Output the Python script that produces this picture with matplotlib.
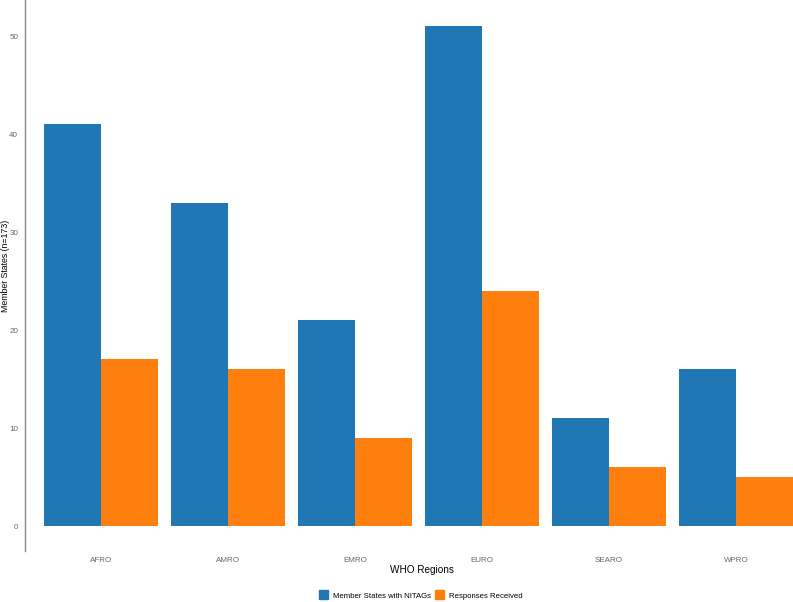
import matplotlib.pyplot as plt
from matplotlib.patches import Patch
import numpy as np

plt.rcParams['font.family'] = ['Liberation Sans', 'DejaVu Sans']

# data
regions = ['AFRO', 'AMRO', 'EMRO', 'EURO', 'SEARO', 'WPRO']
with_nitags = [41, 33, 21, 51, 11, 16]
responses = [17, 16, 9, 24, 6, 5]
series_labels = ['Member States with NITAGs', 'Responses Received']

blue = '#1F77B4'
orange = '#FF7F0E'
grey = '#666666'

W, H = 793, 602
fig = plt.figure(figsize=(W / 100, H / 100), dpi=100)
ax = fig.add_axes([25 / W, 1 - 551 / H, 1 - 25 / W, 551 / H])

x = np.arange(len(regions))
w = 0.45
ax.bar(x - w / 2, with_nitags, width=w, color=blue)
ax.bar(x + w / 2, responses, width=w, color=orange)

ax.set_xlim(-0.6, 5.45)
ax.set_ylim(-2.55, 53.7)
ax.set_yticks([0, 10, 20, 30, 40, 50])
ax.set_xticks(x)
ax.set_xticklabels(regions)
ax.tick_params(axis='both', length=0, labelsize=5.8, labelcolor=grey)
ax.tick_params(axis='x', pad=4)
ax.tick_params(axis='y', pad=5)

for s in ['top', 'right', 'bottom']:
    ax.spines[s].set_visible(False)
ax.spines['left'].set_color('#8C8C8C')
ax.spines['left'].set_linewidth(1.0)

# axis titles placed in figure pixels
fig.text(422 / W, 1 - 570 / H, 'WHO Regions', ha='center', va='center',
         fontsize=7.2, color='black')
fig.text(6 / W, 1 - 266 / H, 'Member States (n=173)', ha='center',
         va='center', rotation=90, fontsize=6.3, color='black')

handles = [Patch(color=blue, label=series_labels[0]),
           Patch(color=orange, label=series_labels[1])]
fig.legend(handles=handles, loc='center', bbox_to_anchor=(421 / W, 1 - 595 / H),
           ncol=2, frameon=False, fontsize=5.6, handlelength=1.1,
           handleheight=1.4, columnspacing=0.5, handletextpad=0.7,
           borderpad=0)

fig.savefig('out.png', dpi=100, facecolor='white')
